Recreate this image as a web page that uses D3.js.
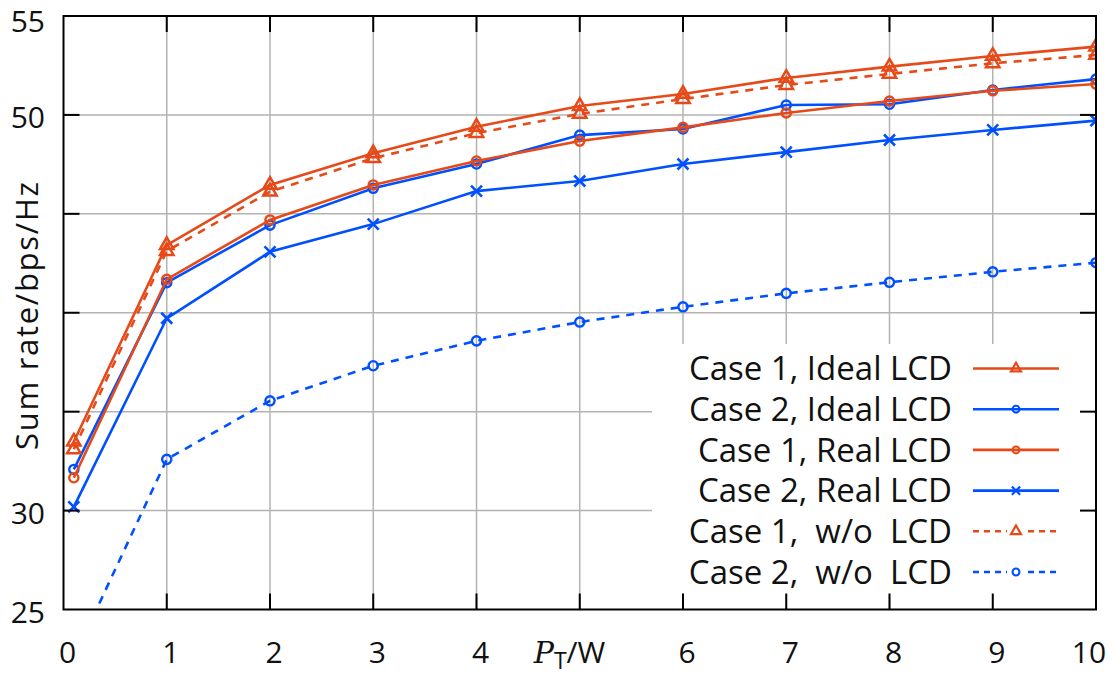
<!DOCTYPE html>
<html>
<head>
<meta charset="utf-8">
<script src="https://cdn.jsdelivr.net/npm/d3@7"></script>
<style>
  html, body { margin: 0; padding: 0; background: #fff; }
  svg text { font-family: "Open Sans", Lato, sans-serif; fill: #111; }
</style>
</head>
<body>
<div id="chart"></div>
<script>
// power values (W)
const power = [0.1, 1, 2, 3, 4, 5, 6, 7, 8, 9, 10];

// sum rate, bps/Hz
const case1Ideal = [33.48, 43.42, 46.46, 48.06, 49.40, 50.45, 51.06, 51.87, 52.44, 52.98, 53.45];
const case2Ideal = [32.08, 41.52, 44.43, 46.29, 47.52, 48.98, 49.29, 50.50, 50.54, 51.26, 51.81];
const case1Real  = [31.66, 41.69, 44.69, 46.46, 47.67, 48.68, 49.37, 50.10, 50.70, 51.22, 51.56];
const case2Real  = [30.19, 39.72, 43.08, 44.48, 46.15, 46.66, 47.52, 48.12, 48.73, 49.24, 49.71];
const case1NoLCD = [33.10, 43.12, 46.12, 47.81, 49.08, 50.05, 50.80, 51.51, 52.07, 52.61, 53.03];
const case2NoLCD = [22.56, 32.59, 35.55, 37.32, 38.58, 39.53, 40.30, 40.98, 41.54, 42.07, 42.53];

const xTicks = [0, 1, 2, 3, 4, 5, 6, 7, 8, 9, 10];
const yTicks = [25, 30, 35, 40, 45, 50, 55];
const yTickLabels = ["25", "30", "", "", "", "50", "55"];

const ORANGE = "#e64a19";
const BLUE = "#0050ff";

const series = [
  { name: "Case 1, Ideal LCD", values: case1Ideal, color: ORANGE, dash: null, marker: "triangle" },
  { name: "Case 2, Ideal LCD", values: case2Ideal, color: BLUE, dash: null, marker: "circle" },
  { name: "Case 1, Real LCD", values: case1Real, color: ORANGE, dash: null, marker: "circle" },
  { name: "Case 2, Real LCD", values: case2Real, color: BLUE, dash: null, marker: "cross" },
  { name: "Case 1,  w/o  LCD", values: case1NoLCD, color: ORANGE, dash: "8,7", marker: "triangle" },
  { name: "Case 2,  w/o  LCD", values: case2NoLCD, color: BLUE, dash: "8,7", marker: "circle" }
];

const W = 1114, H = 677;
const pL = 63.5, pR = 1096, pT = 16, pB = 609.5;

const svg = d3.select("#chart").append("svg")
  .attr("width", W).attr("height", H);

const x = d3.scaleLinear().domain([0, 10]).range([pL, pR]);
const y = d3.scaleLinear().domain([25, 55]).range([pB, pT]);

svg.append("defs").append("clipPath").attr("id", "plot-clip")
  .append("rect")
  .attr("x", pL).attr("y", pT)
  .attr("width", pR - pL).attr("height", pB - pT);

// grid
const grid = svg.append("g").attr("stroke", "#b3b3b3").attr("stroke-width", 1.5);
grid.selectAll(".vg").data(xTicks.slice(1, -1)).enter().append("line")
  .attr("x1", d => x(d)).attr("x2", d => x(d))
  .attr("y1", pT).attr("y2", pB);
grid.selectAll(".hg").data(yTicks.slice(1, -1)).enter().append("line")
  .attr("x1", pL).attr("x2", pR)
  .attr("y1", d => y(d)).attr("y2", d => y(d));

function drawMarker(sel, type, color, scale) {
  const k = scale || 1;
  if (type === "triangle") {
    sel.append("path")
      .attr("d", d3.symbol(d3.symbolTriangle, 78 * k * k)())
      .attr("fill", "none").attr("stroke", color).attr("stroke-width", 2.5 * Math.sqrt(k));
  } else if (type === "circle") {
    sel.append("circle").attr("r", 4.6 * k)
      .attr("fill", "none").attr("stroke", color).attr("stroke-width", 2.4 * Math.sqrt(k));
  } else {
    const s = 5.5 * k;
    sel.append("path")
      .attr("d", `M${-s},${-s}L${s},${s}M${-s},${s}L${s},${-s}`)
      .attr("fill", "none").attr("stroke", color).attr("stroke-width", 2.6 * Math.sqrt(k));
  }
}

const line = d3.line().x((d, i) => x(power[i])).y(d => y(d));

const plot = svg.append("g").attr("clip-path", "url(#plot-clip)");
series.forEach(s => {
  plot.append("path")
    .datum(s.values)
    .attr("d", line)
    .attr("fill", "none")
    .attr("stroke", s.color)
    .attr("stroke-width", 2.6)
    .attr("stroke-dasharray", s.dash);
  plot.selectAll(null).data(s.values).enter().append("g")
    .attr("transform", (d, i) => `translate(${x(power[i])},${y(d)})`)
    .each(function() { drawMarker(d3.select(this), s.marker, s.color, 1); });
});

// legend
const legend = svg.append("g");
legend.append("rect")
  .attr("x", 652).attr("y", 344).attr("width", pR - 652 - 2).attr("height", 250)
  .attr("fill", "#fff");
const rowY0 = 368.5, rowStep = 40.7;
series.forEach((s, i) => {
  const ry = rowY0 + i * rowStep;
  legend.append("text")
    .attr("x", 952).attr("y", ry)
    .attr("dy", "0.36em")
    .attr("text-anchor", "end")
    .attr("font-size", 33)
    .style("white-space", "pre")
    .text(s.name);
  legend.append("line")
    .attr("x1", 973).attr("x2", 1059).attr("y1", ry).attr("y2", ry)
    .attr("stroke", s.color).attr("stroke-width", 2.6)
    .attr("stroke-dasharray", s.dash ? "6,5" : null);
  const m = legend.append("g").attr("transform", `translate(1016,${ry})`);
  if (s.dash) m.append("rect").attr("x", -9).attr("y", -6).attr("width", 18).attr("height", 12).attr("fill", "#fff");
  drawMarker(m, s.marker, s.color, s.marker === "cross" ? 0.75 : 0.75);
});

// frame and ticks
const frame = svg.append("g").attr("stroke", "#000").attr("stroke-width", 2);
frame.append("rect")
  .attr("x", pL).attr("y", pT).attr("width", pR - pL).attr("height", pB - pT)
  .attr("fill", "none");
const tl = 16;
xTicks.slice(1, -1).forEach(t => {
  frame.append("line").attr("x1", x(t)).attr("x2", x(t)).attr("y1", pB).attr("y2", pB - tl);
  frame.append("line").attr("x1", x(t)).attr("x2", x(t)).attr("y1", pT).attr("y2", pT + tl);
});
yTicks.slice(1, -1).forEach(t => {
  frame.append("line").attr("x1", pL).attr("x2", pL + tl).attr("y1", y(t)).attr("y2", y(t));
  frame.append("line").attr("x1", pR).attr("x2", pR - tl).attr("y1", y(t)).attr("y2", y(t));
});

// tick labels
svg.append("g").selectAll("text").data(xTicks.filter(t => t !== 5)).enter().append("text")
  .attr("x", d => x(d) + (d === 10 ? -7 : 4))
  .attr("y", 663)
  .attr("text-anchor", "middle")
  .attr("font-size", 30)
  .text(d => d);

svg.append("g").selectAll("text").data(yTicks).enter().append("text")
  .attr("x", 45)
  .attr("y", d => y(d))
  .attr("dy", d => d === 55 ? "0.53em" : "0.44em")
  .attr("text-anchor", "end")
  .attr("font-size", 30)
  .text((d, i) => yTickLabels[i]);

// axis titles
const xl = svg.append("text")
  .attr("x", x(5) - 46).attr("y", 663)
  .attr("font-size", 30);
xl.append("tspan")
  .style("font-family", "'DejaVu Serif', 'Liberation Serif', serif")
  .style("font-style", "italic")
  .text("P");
xl.append("tspan").attr("dy", 6).attr("font-size", 23).text("T");
xl.append("tspan").attr("dy", -6).text("/W");

svg.append("text")
  .attr("transform", `translate(38,316) rotate(-90)`)
  .attr("text-anchor", "middle")
  .attr("font-size", 31)
  .attr("textLength", 268)
  .attr("lengthAdjust", "spacing")
  .text("Sum rate/bps/Hz");
</script>
</body>
</html>
